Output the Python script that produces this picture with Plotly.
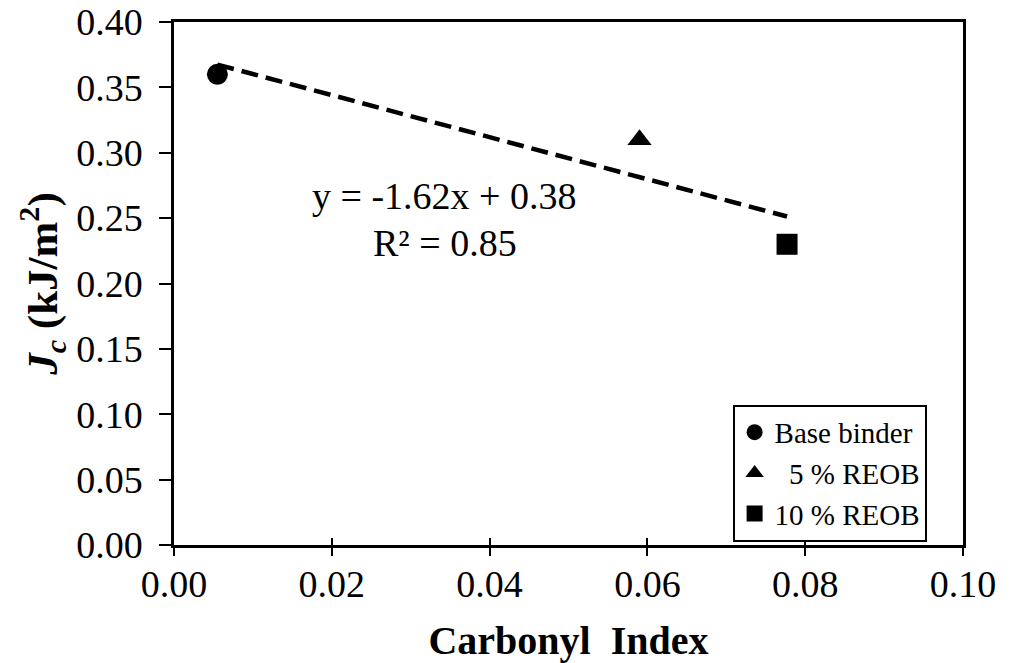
import numpy as np
import plotly.graph_objects as go

# Data
series_names = ["Base binder", "\u00a0\u00a05 % REOB", "10 % REOB"]
carbonyl_index = [0.0055, 0.0590, 0.0777]
jc_values = [0.360, 0.310, 0.230]
symbols = ["circle", "triangle-up", "square"]

x_ticks = [0.00, 0.02, 0.04, 0.06, 0.08, 0.10]
y_ticks = [0.00, 0.05, 0.10, 0.15, 0.20, 0.25, 0.30, 0.35, 0.40]
eq_text = "y = -1.62x + 0.38"
r2_text = "R² = 0.85"

FONT = "Liberation Serif"

fig = go.Figure()

# Linear trendline through the points
slope, intercept = np.polyfit(carbonyl_index, jc_values, 1)
xs = np.array([min(carbonyl_index), max(carbonyl_index)])
fig.add_trace(go.Scatter(
    x=xs, y=slope * xs + intercept, mode="lines",
    line=dict(color="black", width=4.5, dash="17px,8px"),
    showlegend=False, hoverinfo="skip"))

for name, xv, yv, sym in zip(series_names, carbonyl_index, jc_values, symbols):
    fig.add_trace(go.Scatter(
        x=[xv], y=[yv], mode="markers", name=name,
        marker=dict(symbol=sym, size=21, color="black",
                    line=dict(width=0))))

# Invisible trace on overlay axis that draws the outward part of the x ticks
fig.add_trace(go.Scatter(x=[0.05], y=[0.2], xaxis="x2", mode="markers",
                         marker=dict(opacity=0), showlegend=False,
                         hoverinfo="skip"))

tick_font = dict(family=FONT, size=38, color="black")
title_font = dict(family=FONT, size=40, color="black")

fig.update_layout(
    width=1015, height=663,
    margin=dict(l=174, r=52, t=22, b=118),
    paper_bgcolor="white", plot_bgcolor="white",
    font=dict(family=FONT, color="black"),
    xaxis=dict(
        range=[0, 0.10], tickvals=x_ticks,
        ticktext=[f"{v:.2f}" for v in x_ticks],
        ticks="inside", ticklen=7, tickwidth=2, tickcolor="black",
        showline=True, linewidth=2.5, linecolor="black", mirror=True,
        showgrid=False, zeroline=False, tickfont=tick_font,
        automargin=False, ticklabeloverflow="allow", ticklabelstandoff=4,
        title=dict(text="<b>Carbonyl  Index</b>", font=title_font,
                   standoff=29),
    ),
    xaxis2=dict(
        range=[0, 0.10], overlaying="x", side="bottom", tickvals=x_ticks,
        ticks="outside", ticklen=10, tickwidth=2, tickcolor="black",
        showticklabels=False, showline=False, showgrid=False,
        zeroline=False, automargin=False,
    ),
    yaxis=dict(
        range=[0, 0.40], tickvals=y_ticks,
        ticktext=[f"{v:.2f}" for v in y_ticks],
        ticks="outside", ticklen=12, tickwidth=2, tickcolor="black",
        showline=True, linewidth=2.5, linecolor="black", mirror=True,
        showgrid=False, zeroline=False, tickfont=tick_font,
        automargin=False, ticklabeloverflow="allow", ticklabelstandoff=9,
        title=dict(text="<b><i>J</i><sub><i>c</i></sub> (kJ/m<sup>2</sup>)</b>",
                   font=dict(family=FONT, size=43, color="black"),
                   standoff=6),
    ),
    legend=dict(
        x=0.708, y=0.268, xanchor="left", yanchor="top",
        bgcolor="white", bordercolor="black", borderwidth=2,
        font=dict(family=FONT, size=29, color="black"),
        itemsizing="trace", tracegroupgap=0,
    ),
    annotations=[
        dict(x=0.0343, y=0.267, xref="x", yref="y", text=eq_text,
             showarrow=False, font=dict(family=FONT, size=38, color="black")),
        dict(x=0.0343, y=0.231, xref="x", yref="y", text=r2_text,
             showarrow=False, font=dict(family=FONT, size=38, color="black")),
    ],
)

# remove the browser's default 8px body margin so the figure fills the window
fig.write_html("out.html",
               config={"displayModeBar": False},
               post_script="document.body.style.margin='0';"
                           "document.body.style.overflow='hidden';")
